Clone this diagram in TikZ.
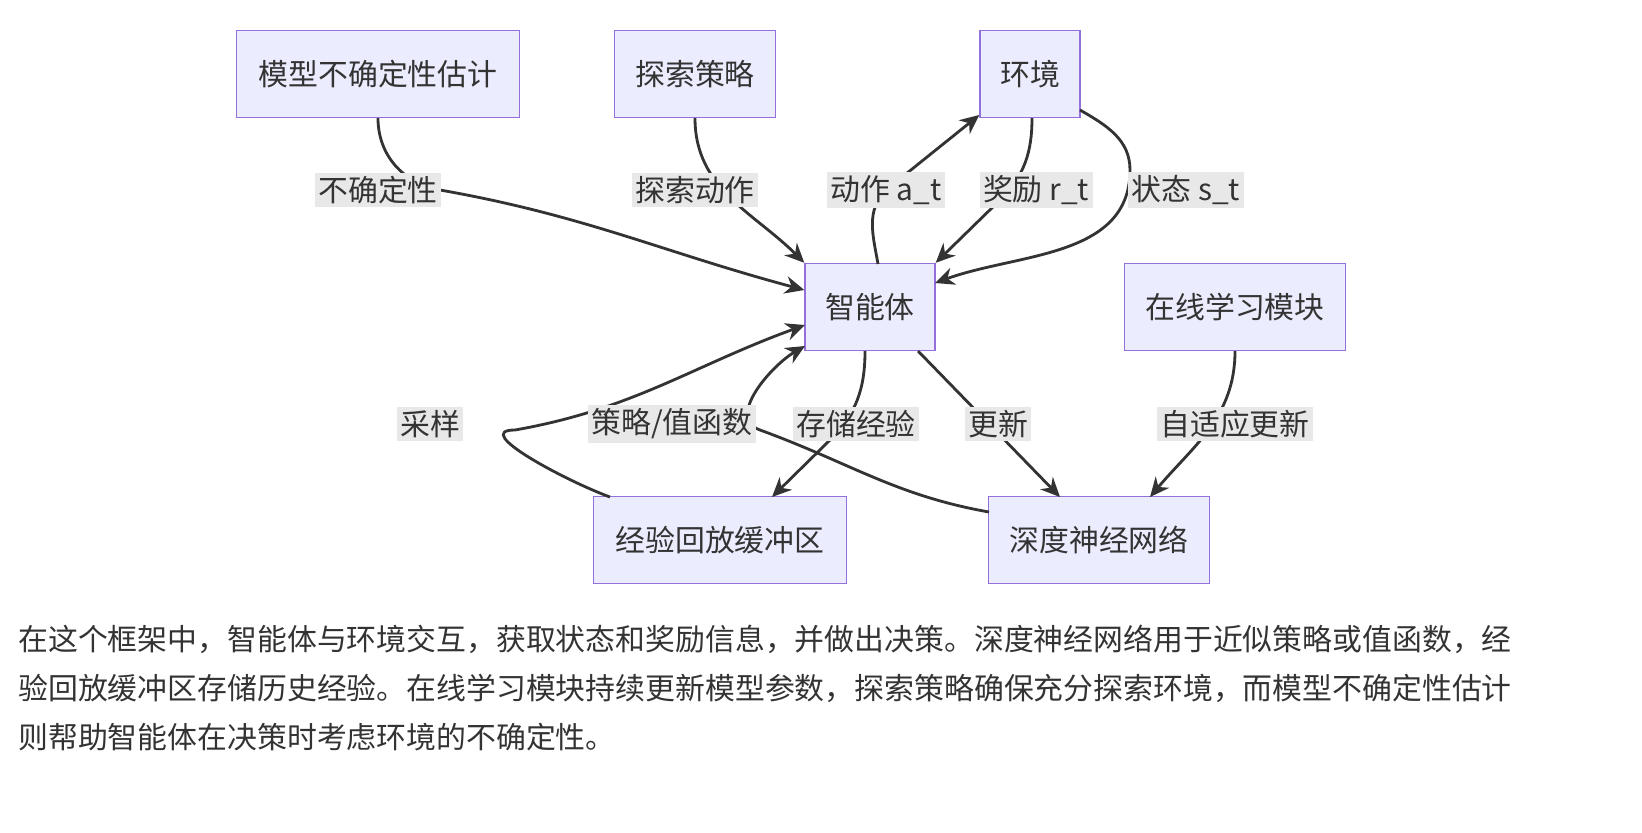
\documentclass[tikz,border=0pt]{standalone}
\usepackage{fontspec}
\setmainfont{Noto Sans CJK SC}
\usetikzlibrary{arrows.meta}
\definecolor{bd}{RGB}{147,112,219}
\definecolor{nf}{RGB}{236,236,255}
\definecolor{lb}{RGB}{232,232,232}
\definecolor{tx}{RGB}{51,51,51}
\begin{document}
\begin{tikzpicture}[x=0.02cm,y=-0.02cm,
 box/.style={draw=bd,fill=nf,line width=0.8pt,minimum height=1.74cm,font=\fontsize{17}{19}\selectfont,text=tx},
 lab/.style={fill=lb,inner sep=2pt,font=\fontsize{17}{19}\selectfont,text=tx},
 arr/.style={-{Stealth[length=11pt,width=10pt]},line width=1.6pt,draw=tx}]
\node[box,minimum width=5.66cm] (unc) at (378,74) {模型不确定性估计};
\node[box,minimum width=3.22cm] (exp) at (695,74) {探索策略};
\node[box,minimum width=2cm] (env) at (1030,74) {环境};
\node[box,minimum width=2.6cm] (ag) at (870,307) {智能体};
\node[box,minimum width=4.42cm] (onl) at (1235,307) {在线学习模块};
\node[box,minimum width=5.06cm] (buf) at (720,540) {经验回放缓冲区};
\node[box,minimum width=4.42cm] (dnn) at (1099,540) {深度神经网络};

\draw[arr] (unc.south) to[out=-90,in=170] (440,190) to[out=-10,in=165] (ag.west|-0,290);
\draw[arr] (exp.south) to[out=-90,in=135] (ag.north west);
\draw[arr] (878,264) to[out=100,in=-135] (886,190) -- (env.south west|-0,115);
\draw[arr] (1032,118) to[out=-90,in=45] (1000,200) -- (ag.north east);
\draw[arr] (1080,110) to[out=-30,in=90] (1130,170) to[out=-90,in=20] (935,283);
\draw[arr] (865,351) to[out=-90,in=45] (830,440) -- (772,497);
\draw[arr] (918,351) -- (1060,497);
\draw[arr] (onl.south) to[out=-90,in=50] (1150,497);
\draw[arr] (610,497) to[out=160,in=180] (515,430) to[out=10,in=200] (805,325);
\draw[arr] (989,512) to[out=170,in=-20] (760,430) to[out=160,in=-150] (805,346);

\node[lab] at (378,190) {不确定性};
\node[lab] at (695,190) {探索动作};
\node[lab] at (886,190) {动作 a\_t};
\node[lab] at (1036,190) {奖励 r\_t};
\node[lab] at (1186,190) {状态 s\_t};
\node[lab] at (430,424) {采样};
\node[lab] at (672,424) {策略/值函数};
\node[lab] at (856,424) {存储经验};
\node[lab] at (998,424) {更新};
\node[lab] at (1235,424) {自适应更新};

\node[anchor=west,align=left,inner sep=0pt,font=\fontsize{17}{28}\selectfont,text=tx] (p) at (18,688) {在这个框架中，智能体与环境交互，获取状态和奖励信息，并做出决策。深度神经网络用于近似策略或值函数，经\\验回放缓冲区存储历史经验。在线学习模块持续更新模型参数，探索策略确保充分探索环境，而模型不确定性估计\\则帮助智能体在决策时考虑环境的不确定性。};
\pgfresetboundingbox
\useasboundingbox (0,0) rectangle (1642,832);
\end{tikzpicture}
\end{document}
